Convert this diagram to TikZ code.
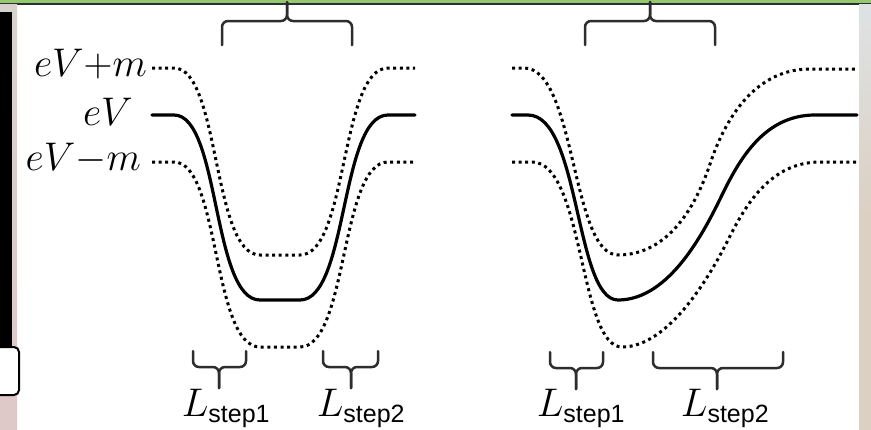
\RequirePackage{fix-cm}
\documentclass[tikz,border=0pt]{standalone}
\usepackage{fontspec}
\newfontfamily\subsf{Liberation Sans}
\definecolor{topgreen}{RGB}{150,200,110}
\definecolor{darkbar}{RGB}{45,48,50}
\definecolor{bracegray}{RGB}{45,45,45}
\definecolor{stripA}{RGB}{216,210,204}
\definecolor{stripB}{RGB}{222,200,200}
\definecolor{rstripA}{RGB}{222,226,228}
\definecolor{rstripB}{RGB}{220,208,194}
\tikzset{
  solidcurve/.style={line width=3.2pt, black, line cap=round},
  dotcurve/.style={line width=3pt, black, dash pattern=on 3pt off 3.6pt},
  bracepath/.style={line width=2.5pt, bracegray, rounded corners=6pt, line cap=round},
  lvl/.style={inner sep=0pt, font=\fontsize{40}{48}\selectfont},
  steplab/.style={inner sep=0pt, anchor=base, font=\fontsize{40}{48}\selectfont},
}
\newcommand{\subtxt}[1]{\mbox{\subsf\fontsize{25}{30}\selectfont #1}}
\begin{document}
\begin{tikzpicture}[x=1pt,y=-1pt]
\useasboundingbox (0,0) rectangle (871,429);
\clip (0,0) rectangle (871,429);
% frame pieces
\fill[white] (0,0) rectangle (871,429);
\fill[topgreen] (0,0) rectangle (871,2.8);
\fill[darkbar] (0,2.8) rectangle (871,4.8);
\shade[top color=stripA, bottom color=stripB] (0,4.8) rectangle (17,429);
\fill[black] (0,12) rectangle (12,346);
\draw[line width=2pt, fill=white, rounded corners=5pt] (-8,347) rectangle (19,395);
\shade[top color=rstripA, bottom color=rstripB, middle color=rstripB] (859,4.8) rectangle (871,429);

% level labels
\node[lvl, anchor=base east] (vp) at (147,76) {$eV{+}m$};
\node[lvl, anchor=base east] (v0) at (133,125) {$eV$};
\node[lvl, anchor=base east] (vm) at (141,170) {$eV{-}m$};

% left panel curves
\draw[dotcurve] (152,68) -- (174,68) .. controls (220,68) and (212,255) .. (260,255)
  -- (300,255) .. controls (348,255) and (340,68) .. (388,68) -- (415,68);
\draw[solidcurve] (152,115) -- (174,115) .. controls (220,115) and (212,300) .. (260,300)
  -- (300,300) .. controls (348,300) and (340,115) .. (388,115) -- (415,115);
\draw[dotcurve] (152,162) -- (174,162) .. controls (220,162) and (212,347) .. (260,347)
  -- (300,347) .. controls (348,347) and (340,162) .. (388,162) -- (415,162);

% right panel curves
\draw[dotcurve] (512,68) -- (524,68) .. controls (576,68) and (571,255) .. (618,255)
  .. controls (670,255) and (697,203) .. (710,164)
  .. controls (722,128) and (750,69) .. (810,69) -- (857,69);
\draw[solidcurve] (512,115) -- (528,115) .. controls (580,115) and (575,300) .. (618,300)
  .. controls (670,300) and (705,230) .. (722,195)
  .. controls (740,158) and (765,115) .. (815,115) -- (857,115);
\draw[dotcurve] (512,162) -- (532,162) .. controls (584,162) and (579,347) .. (622,347)
  .. controls (670,347) and (712,272) .. (728,240)
  .. controls (745,206) and (770,162) .. (820,162) -- (857,162);

% top braces
\draw[bracepath] (222,45) -- (222,21) -- (287,21) -- (287,2);
\draw[bracepath] (352,45) -- (352,21) -- (287,21) -- (287,2);
\draw[bracepath] (585,45) -- (585,21) -- (650,21) -- (650,2);
\draw[bracepath] (715,45) -- (715,21) -- (650,21) -- (650,2);

% bottom braces
\draw[bracepath] (193,351) -- (193,367) -- (219,367) -- (219,388);
\draw[bracepath] (246,351) -- (246,367) -- (219,367) -- (219,388);
\draw[bracepath] (323,351) -- (323,367) -- (351,367) -- (351,388);
\draw[bracepath] (378,351) -- (378,367) -- (351,367) -- (351,388);
\draw[bracepath] (550,352) -- (550,368) -- (576,368) -- (576,389);
\draw[bracepath] (603,352) -- (603,368) -- (576,368) -- (576,389);
\draw[bracepath] (653,352) -- (653,368) -- (717,368) -- (717,389);
\draw[bracepath] (783,352) -- (783,368) -- (717,368) -- (717,389);

% step labels
\node[steplab] (s1a) at (226,416) {$L_{\subtxt{step1}}$};
\node[steplab] (s2a) at (361,416) {$L_{\subtxt{step2}}$};
\node[steplab] (s1b) at (581,416) {$L_{\subtxt{step1}}$};
\node[steplab] (s2b) at (725,416) {$L_{\subtxt{step2}}$};
\end{tikzpicture}
\end{document}
